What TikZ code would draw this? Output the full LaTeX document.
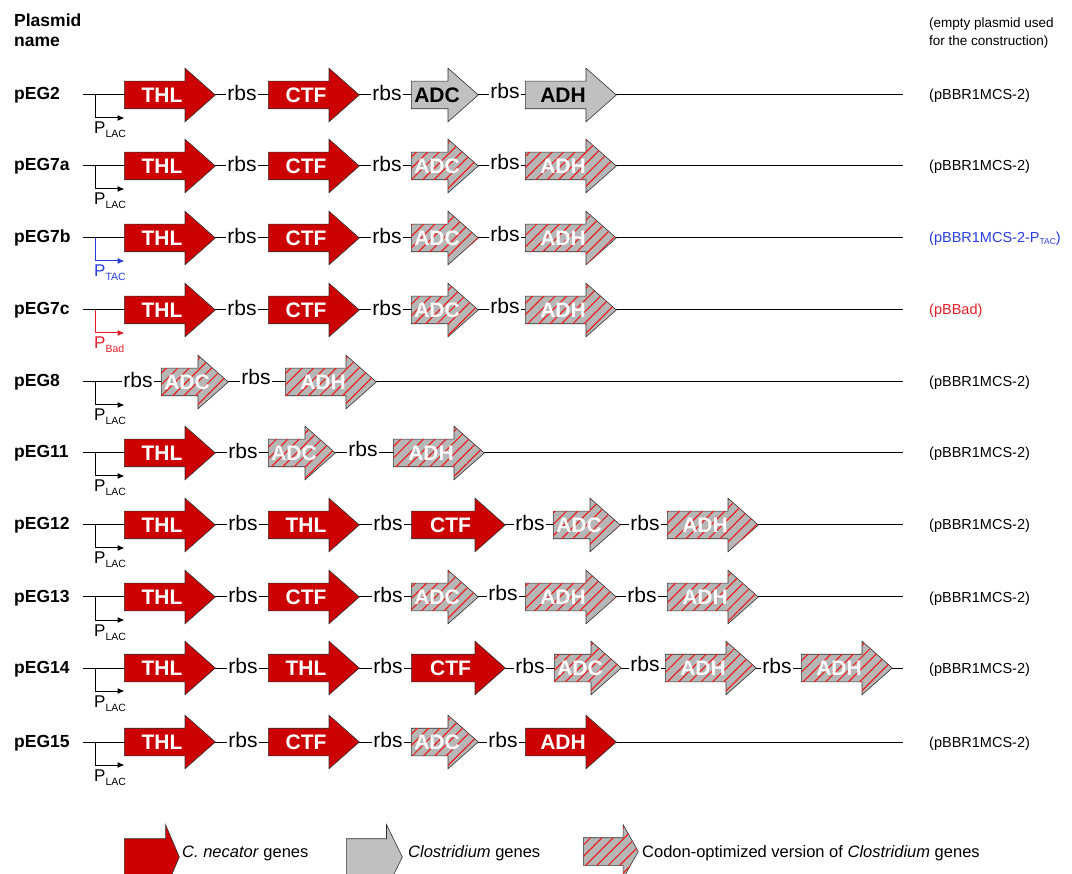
\documentclass[tikz,border=0pt]{standalone}
\usepackage{fontspec}
\setmainfont{Liberation Sans}
\usepackage{tikz}
\usetikzlibrary{shapes,arrows,arrows.meta,positioning,patterns.meta}
\definecolor{cnred}{RGB}{204,0,0}
\definecolor{clgray}{RGB}{192,192,192}
\definecolor{cogray}{RGB}{182,182,182}
\definecolor{cored}{RGB}{232,36,36}
\definecolor{tacblue}{RGB}{40,60,225}
\definecolor{badred}{RGB}{225,30,40}
\tikzstyle{gene}=[single arrow, anchor=tail, draw=black!80, line width=0.6pt, single arrow head extend=13pt, single arrow tip angle=83, inner xsep=0pt, inner ysep=0pt, text height=21pt, text depth=6pt, minimum height=91pt, font=\bfseries\fontsize{21}{21}\selectfont]
\tikzstyle{cnec}=[gene, fill=cnred, text=white]
\tikzstyle{clos}=[gene, fill=clgray, text=black]
\tikzstyle{copt}=[gene, fill=cogray, text=white, postaction={pattern={Lines[angle=45,distance=8pt,line width=1.2pt]}, pattern color=cored}]
\tikzstyle{half}=[minimum height=67pt]
\tikzstyle{rbs}=[fill=white, inner xsep=1.5pt, inner ysep=0pt, font=\fontsize{21}{21}\selectfont]
\tikzstyle{bb}=[line width=1pt]
\tikzstyle{prom}=[line width=1pt, -{Latex[length=7pt,width=6pt]}]
\tikzstyle{pname}=[anchor=base west, inner sep=0pt, font=\bfseries\fontsize{17.5}{20}\selectfont]
\tikzstyle{vec}=[anchor=base west, inner sep=0pt, font=\fontsize{14.5}{18}\selectfont]
\tikzstyle{plab}=[anchor=base west, inner sep=0pt, font=\fontsize{17}{17}\selectfont]
\tikzstyle{key}=[anchor=base west, inner sep=0pt, font=\fontsize{16.5}{18}\selectfont]
\newcommand{\psub}[1]{P\raisebox{-4pt}{\fontsize{10.5}{11}\selectfont #1}}

\begin{document}
\begin{tikzpicture}[x=1pt, y=-1pt]
\useasboundingbox (0,0) rectangle (1072,874);

% headers
\node[pname, align=left] (hd) at (14,47) {Plasmid\\name};
\node[vec, font=\fontsize{13.5}{18}\selectfont, align=left] (hv) at (929,46) {(empty plasmid used\\for the construction)};

% pEG2
\node[pname] (n2) at (14,100) {pEG2};
\coordinate (a2) at (83,95); \coordinate (b2) at (903,95); \coordinate (p2) at (95.5,95);
\draw[bb] (a2) -- (b2);
\draw[prom] (p2) -- ++(0,23) -- ++(29,0);
\node[plab] (l2) at (94,134) {\psub{LAC}};
\node[cnec] (g2a) at (124,95) {THL};
\node[rbs] (r2a) at (242,93) {rbs};
\node[cnec] (g2b) at (268,95) {CTF};
\node[rbs] (r2b) at (387,93) {rbs};
\node[clos, half] (g2c) at (411,95) {ADC};
\node[rbs] (r2c) at (505,91) {rbs};
\node[clos] (g2d) at (525,95) {ADH};
\node[vec] (v2) at (929,100) {(pBBR1MCS-2)};

% pEG7a
\node[pname] (n7a) at (14,171) {pEG7a};
\coordinate (a7a) at (83,166); \coordinate (b7a) at (903,166); \coordinate (p7a) at (95.5,166);
\draw[bb] (a7a) -- (b7a);
\draw[prom] (p7a) -- ++(0,23) -- ++(29,0);
\node[plab] (l7a) at (94,205) {\psub{LAC}};
\node[cnec] (g7aa) at (124,166) {THL};
\node[rbs] (r7aa) at (242,164) {rbs};
\node[cnec] (g7ab) at (268,166) {CTF};
\node[rbs] (r7ab) at (387,164) {rbs};
\node[copt, half] (g7ac) at (411,166) {ADC};
\node[rbs] (r7ac) at (505,162) {rbs};
\node[copt] (g7ad) at (525,166) {ADH};
\node[vec] (v7a) at (929,171) {(pBBR1MCS-2)};

% pEG7b
\node[pname] (n7b) at (14,243) {pEG7b};
\coordinate (a7b) at (83,238); \coordinate (b7b) at (903,238); \coordinate (p7b) at (95.5,238);
\draw[bb] (a7b) -- (b7b);
\draw[prom, tacblue] (p7b) -- ++(0,23) -- ++(29,0);
\node[plab, text=tacblue] (l7b) at (94,277) {\psub{TAC}};
\node[cnec] (g7ba) at (124,238) {THL};
\node[rbs] (r7ba) at (242,236) {rbs};
\node[cnec] (g7bb) at (268,238) {CTF};
\node[rbs] (r7bb) at (387,236) {rbs};
\node[copt, half] (g7bc) at (411,238) {ADC};
\node[rbs] (r7bc) at (505,234) {rbs};
\node[copt] (g7bd) at (525,238) {ADH};
\node[vec, text=tacblue] (v7b) at (929,243) {(pBBR1MCS-2-P\raisebox{-2pt}{\fontsize{8.5}{9}\selectfont TAC})};

% pEG7c
\node[pname] (n7c) at (14,315) {pEG7c};
\coordinate (a7c) at (83,310); \coordinate (b7c) at (903,310); \coordinate (p7c) at (95.5,310);
\draw[bb] (a7c) -- (b7c);
\draw[prom, badred] (p7c) -- ++(0,23) -- ++(29,0);
\node[plab, text=badred] (l7c) at (94,349) {\psub{Bad}};
\node[cnec] (g7ca) at (124,310) {THL};
\node[rbs] (r7ca) at (242,308) {rbs};
\node[cnec] (g7cb) at (268,310) {CTF};
\node[rbs] (r7cb) at (387,308) {rbs};
\node[copt, half] (g7cc) at (411,310) {ADC};
\node[rbs] (r7cc) at (505,306) {rbs};
\node[copt] (g7cd) at (525,310) {ADH};
\node[vec, text=badred] (v7c) at (929,315) {(pBBad)};

% pEG8
\node[pname] (n8) at (14,387) {pEG8};
\coordinate (a8) at (83,382); \coordinate (b8) at (903,382); \coordinate (p8) at (95.5,382);
\draw[bb] (a8) -- (b8);
\draw[prom] (p8) -- ++(0,23) -- ++(29,0);
\node[plab] (l8) at (94,421) {\psub{LAC}};
\node[rbs] (r8a) at (138,380) {rbs};
\node[copt, half] (g8a) at (161,382) {ADC};
\node[rbs] (r8b) at (256,377) {rbs};
\node[copt] (g8b) at (285,382) {ADH};
\node[vec] (v8) at (929,387) {(pBBR1MCS-2)};

% pEG11
\node[pname] (n11) at (14,458) {pEG11};
\coordinate (a11) at (83,453); \coordinate (b11) at (903,453); \coordinate (p11) at (95.5,453);
\draw[bb] (a11) -- (b11);
\draw[prom] (p11) -- ++(0,23) -- ++(29,0);
\node[plab] (l11) at (94,492) {\psub{LAC}};
\node[cnec] (g11a) at (124,453) {THL};
\node[rbs] (r11a) at (243,451) {rbs};
\node[copt, half] (g11b) at (268,453) {ADC};
\node[rbs] (r11b) at (363,449) {rbs};
\node[copt] (g11c) at (393,453) {ADH};
\node[vec] (v11) at (929,458) {(pBBR1MCS-2)};

% pEG12
\node[pname] (n12) at (14,530) {pEG12};
\coordinate (a12) at (83,525); \coordinate (b12) at (903,525); \coordinate (p12) at (95.5,525);
\draw[bb] (a12) -- (b12);
\draw[prom] (p12) -- ++(0,23) -- ++(29,0);
\node[plab] (l12) at (94,564) {\psub{LAC}};
\node[cnec] (g12a) at (124,525) {THL};
\node[rbs] (r12a) at (243,523) {rbs};
\node[cnec] (g12b) at (268,525) {THL};
\node[rbs] (r12b) at (388,523) {rbs};
\node[cnec, minimum height=94pt] (g12c) at (411,525) {CTF};
\node[rbs] (r12c) at (530,523) {rbs};
\node[copt, half] (g12d) at (553,525) {ADC};
\node[rbs] (r12d) at (645,523) {rbs};
\node[copt] (g12e) at (667,525) {ADH};
\node[vec] (v12) at (929,530) {(pBBR1MCS-2)};

% pEG13
\node[pname] (n13) at (14,602) {pEG13};
\coordinate (a13) at (83,597); \coordinate (b13) at (903,597); \coordinate (p13) at (95.5,597);
\draw[bb] (a13) -- (b13);
\draw[prom] (p13) -- ++(0,23) -- ++(29,0);
\node[plab] (l13) at (94,636) {\psub{LAC}};
\node[cnec] (g13a) at (124,597) {THL};
\node[rbs] (r13a) at (243,595) {rbs};
\node[cnec] (g13b) at (268,597) {CTF};
\node[rbs] (r13b) at (388,595) {rbs};
\node[copt, half] (g13c) at (411,597) {ADC};
\node[rbs] (r13c) at (503,593) {rbs};
\node[copt] (g13d) at (525,597) {ADH};
\node[rbs] (r13d) at (642,595) {rbs};
\node[copt] (g13e) at (667,597) {ADH};
\node[vec] (v13) at (929,602) {(pBBR1MCS-2)};

% pEG14
\node[pname] (n14) at (14,673) {pEG14};
\coordinate (a14) at (83,668); \coordinate (b14) at (903,668); \coordinate (p14) at (95.5,668);
\draw[bb] (a14) -- (b14);
\draw[prom] (p14) -- ++(0,23) -- ++(29,0);
\node[plab] (l14) at (94,707) {\psub{LAC}};
\node[cnec] (g14a) at (124,668) {THL};
\node[rbs] (r14a) at (243,666) {rbs};
\node[cnec] (g14b) at (268,668) {THL};
\node[rbs] (r14b) at (388,666) {rbs};
\node[cnec, minimum height=94pt] (g14c) at (411,668) {CTF};
\node[rbs] (r14c) at (530,666) {rbs};
\node[copt, half] (g14d) at (554,668) {ADC};
\node[rbs] (r14d) at (645,664) {rbs};
\node[copt] (g14e) at (665,668) {ADH};
\node[rbs] (r14e) at (777,666) {rbs};
\node[copt] (g14f) at (801,668) {ADH};
\node[vec] (v14) at (929,673) {(pBBR1MCS-2)};

% pEG15
\node[pname] (n15) at (14,747) {pEG15};
\coordinate (a15) at (83,742); \coordinate (b15) at (903,742); \coordinate (p15) at (95.5,742);
\draw[bb] (a15) -- (b15);
\draw[prom] (p15) -- ++(0,23) -- ++(29,0);
\node[plab] (l15) at (94,781) {\psub{LAC}};
\node[cnec] (g15a) at (124,742) {THL};
\node[rbs] (r15a) at (243,740) {rbs};
\node[cnec] (g15b) at (268,742) {CTF};
\node[rbs] (r15b) at (388,740) {rbs};
\node[copt, half] (g15c) at (411,742) {ADC};
\node[rbs] (r15c) at (503,740) {rbs};
\node[cnec] (g15d) at (525,742) {ADH};
\node[vec] (v15) at (929,747) {(pBBR1MCS-2)};

% legend
\node[cnec, minimum height=55pt, text height=36pt, text depth=0pt, single arrow head extend=14pt, single arrow tip angle=134] (k1) at (124,857) {};
\node[key] (t1) at (182,857) {\textit{C. necator} genes};
\node[clos, minimum height=56pt, text height=36pt, text depth=0pt, single arrow head extend=14pt, single arrow tip angle=128] (k2) at (346,857) {};
\node[key] (t2) at (408,857) {\textit{Clostridium} genes};
\node[copt, minimum height=55pt, single arrow tip angle=121] (k3) at (583,851.5) {};
\node[key] (t3) at (642,857) {Codon-optimized version of \textit{Clostridium} genes};
\end{tikzpicture}
\end{document}
